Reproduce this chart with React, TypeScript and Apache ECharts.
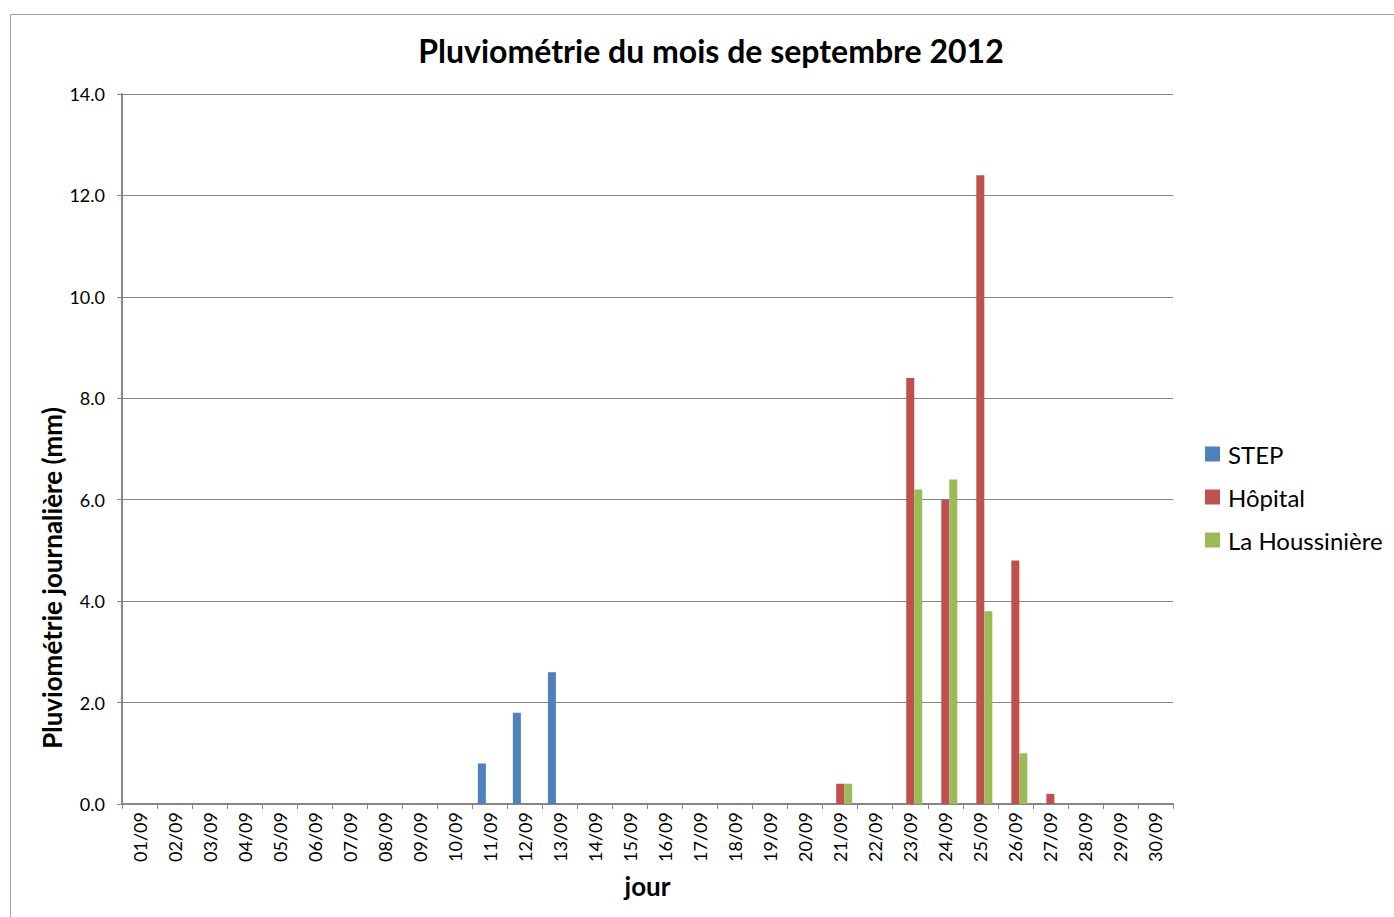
import React, { useEffect, useRef } from "react";
import * as echarts from "echarts";

const days: string[] = [
  "01/09","02/09","03/09","04/09","05/09","06/09","07/09","08/09","09/09","10/09",
  "11/09","12/09","13/09","14/09","15/09","16/09","17/09","18/09","19/09","20/09",
  "21/09","22/09","23/09","24/09","25/09","26/09","27/09","28/09","29/09","30/09",
];
const step: (number | null)[] = [
  null,null,null,null,null,null,null,null,null,null,
  0.8,1.8,2.6,null,null,null,null,null,null,null,
  null,null,null,null,null,null,null,null,null,null,
];
const hopital: (number | null)[] = [
  null,null,null,null,null,null,null,null,null,null,
  null,null,null,null,null,null,null,null,null,null,
  0.4,null,8.4,6.0,12.4,4.8,0.2,null,null,null,
];
const houssiniere: (number | null)[] = [
  null,null,null,null,null,null,null,null,null,null,
  null,null,null,null,null,null,null,null,null,null,
  0.4,null,6.2,6.4,3.8,1.0,null,null,null,null,
];

const FONT = "Lato, 'Open Sans', sans-serif";

export default function App() {
  const ref = useRef<HTMLDivElement>(null);
  useEffect(() => {
    if (!ref.current) return;
    const chart = echarts.init(ref.current, undefined, { renderer: "svg" });
    const axisColor = "#868686";
    chart.setOption({
      animation: false,
      backgroundColor: "#ffffff",
      textStyle: { fontFamily: FONT },
      title: {
        text: "Pluviométrie du mois de septembre 2012",
        left: 706,
        top: 29,
        textAlign: "center",
        textStyle: { fontFamily: FONT, fontSize: 32, fontWeight: "bold", color: "#000" },
      },
      legend: {
        orient: "vertical",
        left: 1200,
        top: 437,
        itemWidth: 15,
        itemHeight: 15,
        itemGap: 19,
        icon: "rect",
        textStyle: { fontFamily: FONT, fontSize: 24, color: "#000", padding: [0, 0, 0, 3] },
        data: ["STEP", "Hôpital", "La Houssinière"],
      },
      grid: { left: 122, right: 221, top: 94, bottom: 113 },
      xAxis: {
        type: "category",
        data: days,
        boundaryGap: true,
        axisLine: { lineStyle: { color: axisColor, width: 2 } },
        axisTick: { show: true, length: 5, alignWithLabel: false, lineStyle: { color: axisColor } },
        axisLabel: { rotate: 90, interval: 0, fontSize: 18, color: "#000", fontFamily: FONT, margin: 8 },
        name: "jour",
        nameLocation: "middle",
        nameGap: 69,
        nameTextStyle: { fontFamily: FONT, fontSize: 26, fontWeight: "bold", color: "#000" },
      },
      yAxis: {
        type: "value",
        min: 0,
        max: 14,
        interval: 2,
        axisLine: { show: true, lineStyle: { color: axisColor, width: 2 } },
        axisTick: { show: true, length: 5, lineStyle: { color: axisColor } },
        splitLine: { lineStyle: { color: axisColor, width: 1 } },
        axisLabel: {
          fontSize: 18,
          color: "#000",
          fontFamily: FONT,
          margin: 17,
          formatter: (v: number) => v.toFixed(1),
        },
      },
      graphic: [
        {
          type: "rect",
          shape: { x: 10.5, y: 14.5, width: 1400, height: 920 },
          style: { fill: "none", stroke: "#a0a0a0", lineWidth: 1 },
          silent: true,
        },
        {
          type: "text",
          x: 52,
          y: 578,
          rotation: Math.PI / 2,
          style: {
            text: "Pluviométrie journalière (mm)",
            fontFamily: FONT,
            fontSize: 26,
            fontWeight: "bold",
            fill: "#000",
            align: "center",
            verticalAlign: "middle",
          },
        },
      ],
      series: [
        { name: "STEP", type: "bar", data: step, barWidth: 8, barGap: "0%", itemStyle: { color: "#4F81BD" } },
        { name: "Hôpital", type: "bar", data: hopital, barWidth: 8, barGap: "0%", itemStyle: { color: "#C0504D" } },
        { name: "La Houssinière", type: "bar", data: houssiniere, barWidth: 8, barGap: "0%", itemStyle: { color: "#9BBB59" } },
      ],
    });
    return () => chart.dispose();
  }, []);
  return (
    <div
      ref={ref}
      style={{ position: "absolute", left: 0, top: 0, width: 1394, height: 917 }}
    />
  );
}
